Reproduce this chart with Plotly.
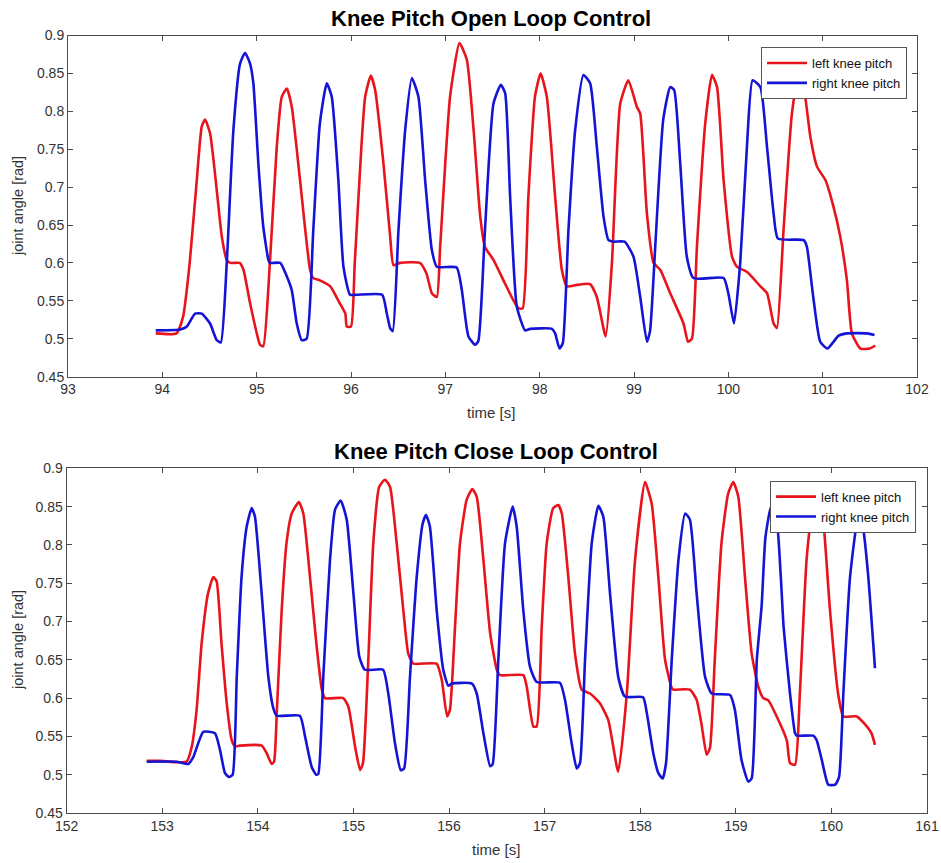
import plotly.graph_objects as go

# ---------------- data ----------------
open_left_t = [93.93, 94.15, 94.22, 94.29, 94.365, 94.418, 94.453, 94.506, 94.577, 94.63, 94.683, 94.72, 94.82, 94.86, 94.93,
               95.036, 95.07, 95.14, 95.213, 95.266, 95.32, 95.372, 95.46, 95.566, 95.6, 95.67, 95.78, 95.88, 95.94, 95.955,
               96.0, 96.04, 96.11, 96.15, 96.21, 96.256, 96.344, 96.415, 96.45, 96.52, 96.73, 96.8, 96.857, 96.91, 96.945,
               97.05, 97.15, 97.228, 97.3, 97.37, 97.42, 97.51, 97.616, 97.72, 97.775, 97.82, 97.88, 97.95, 98.01, 98.076,
               98.164, 98.235, 98.288, 98.394, 98.535, 98.606, 98.7, 98.766, 98.854, 98.94, 99.03, 99.066, 99.137, 99.207,
               99.278, 99.384, 99.525, 99.572, 99.614, 99.667, 99.755, 99.826, 99.88, 99.95, 100.04, 100.09, 100.2, 100.34,
               100.41, 100.48, 100.515, 100.585, 100.674, 100.75, 100.815, 100.87, 100.94, 101.03, 101.115, 101.186,
               101.257, 101.31, 101.4, 101.5, 101.558]
open_left_v = [0.507, 0.507, 0.529, 0.600, 0.709, 0.780, 0.789, 0.771, 0.696, 0.635, 0.604, 0.600, 0.600, 0.591, 0.547,
               0.492, 0.490, 0.600, 0.753, 0.819, 0.830, 0.806, 0.709, 0.591, 0.580, 0.577, 0.569, 0.547, 0.533, 0.516,
               0.516, 0.600, 0.753, 0.819, 0.847, 0.828, 0.731, 0.635, 0.597, 0.600, 0.600, 0.586, 0.560, 0.555, 0.621,
               0.819, 0.890, 0.868, 0.775, 0.661, 0.621, 0.604, 0.577, 0.551, 0.540, 0.540, 0.687, 0.819, 0.850, 0.819,
               0.687, 0.591, 0.569, 0.571, 0.572, 0.555, 0.503, 0.600, 0.810, 0.841, 0.806, 0.797, 0.665, 0.600,
               0.591, 0.560, 0.520, 0.496, 0.500, 0.621, 0.784, 0.848, 0.832, 0.709, 0.608, 0.595, 0.588, 0.569,
               0.560, 0.520, 0.514, 0.643, 0.797, 0.855, 0.819, 0.766, 0.727, 0.709, 0.674, 0.635,
               0.577, 0.507, 0.487, 0.487, 0.491]

open_right_t = [93.93, 94.19, 94.26, 94.347, 94.418, 94.506, 94.577, 94.62, 94.683, 94.753, 94.824, 94.877, 94.93, 94.965,
                95.018, 95.07, 95.124, 95.14, 95.25, 95.32, 95.372, 95.425, 95.478, 95.53, 95.6, 95.67, 95.743, 95.796,
                95.866, 95.92, 95.99, 96.06, 96.33, 96.38, 96.415, 96.443, 96.503, 96.574, 96.645, 96.715, 96.786, 96.857,
                96.91, 97.12, 97.175, 97.245, 97.316, 97.35, 97.42, 97.51, 97.588, 97.634, 97.687, 97.758, 97.846, 97.9,
                98.13, 98.164, 98.21, 98.245, 98.305, 98.376, 98.464, 98.535, 98.606, 98.677, 98.73, 98.78, 98.9, 98.995,
                99.066, 99.137, 99.17, 99.225, 99.31, 99.384, 99.426, 99.49, 99.56, 99.63, 99.95, 100.0, 100.06, 100.126,
                100.197, 100.257, 100.34, 100.41, 100.48, 100.526, 100.8, 100.833, 100.9, 100.974, 101.05, 101.17,
                101.257, 101.47, 101.55]
open_right_v = [0.511, 0.512, 0.516, 0.533, 0.533, 0.520, 0.498, 0.495, 0.600, 0.775, 0.863, 0.877, 0.863, 0.837,
                0.731, 0.648, 0.604, 0.600, 0.600, 0.582, 0.564, 0.520, 0.498, 0.500, 0.643, 0.784, 0.837, 0.819,
                0.709, 0.595, 0.558, 0.558, 0.558, 0.533, 0.514, 0.510, 0.643, 0.775, 0.844, 0.819, 0.709, 0.617,
                0.595, 0.594, 0.564, 0.503, 0.492, 0.497, 0.643, 0.810, 0.835, 0.824, 0.687, 0.542, 0.511, 0.513,
                0.513, 0.507, 0.487, 0.494, 0.643, 0.775, 0.848, 0.837, 0.753, 0.661, 0.630, 0.628, 0.628, 0.608,
                0.555, 0.496, 0.510, 0.621, 0.789, 0.832, 0.828, 0.731, 0.608, 0.580, 0.580, 0.560, 0.520, 0.600,
                0.753, 0.841, 0.832, 0.753, 0.665, 0.632, 0.630, 0.621, 0.555, 0.496, 0.487, 0.504,
                0.507, 0.507, 0.505]

close_left_t = [152.838, 152.977, 153.256, 153.31, 153.36, 153.413, 153.48, 153.535, 153.57, 153.62, 153.675, 153.727,
                153.76, 153.814, 154.04, 154.093, 154.145, 154.17, 154.2, 154.25, 154.3, 154.355, 154.43, 154.476,
                154.546, 154.616, 154.67, 154.703, 154.894, 154.947, 155.017, 155.07, 155.1, 155.156, 155.208, 155.27,
                155.33, 155.383, 155.453, 155.522, 155.574, 155.627, 155.87, 155.924, 155.98, 156.01, 156.063, 156.115,
                156.185, 156.244, 156.29, 156.36, 156.43, 156.5, 156.533, 156.777, 156.813, 156.882, 156.917, 156.97,
                157.022, 157.09, 157.143, 157.18, 157.248, 157.318, 157.388, 157.475, 157.58, 157.667, 157.77, 157.86,
                157.946, 158.05, 158.12, 158.19, 158.26, 158.33, 158.346, 158.52, 158.59, 158.64, 158.695, 158.73,
                158.78, 158.85, 158.92, 158.974, 159.026, 159.096, 159.166, 159.235, 159.288, 159.34, 159.428, 159.533,
                159.567, 159.62, 159.67, 159.74, 159.8, 159.86, 159.915, 159.985, 160.07, 160.125, 160.265, 160.37,
                160.42, 160.456]
close_left_v = [0.518, 0.518, 0.517, 0.537, 0.585, 0.672, 0.737, 0.758, 0.752, 0.672, 0.593, 0.545,
                0.537, 0.538, 0.538, 0.528, 0.514, 0.517, 0.585, 0.715, 0.802, 0.841, 0.856, 0.841,
                0.758, 0.667, 0.611, 0.600, 0.600, 0.589, 0.537, 0.506, 0.515, 0.650, 0.802, 0.876,
                0.885, 0.876, 0.802, 0.715, 0.658, 0.645, 0.645, 0.624, 0.576, 0.585, 0.693, 0.802,
                0.859, 0.873, 0.863, 0.780, 0.685, 0.637, 0.630, 0.630, 0.615, 0.563, 0.563, 0.693,
                0.802, 0.848, 0.852, 0.841, 0.758, 0.658, 0.611, 0.606, 0.593, 0.571, 0.504, 0.606,
                0.780, 0.882, 0.854, 0.758, 0.650, 0.613, 0.611, 0.611, 0.598, 0.567, 0.526, 0.535,
                0.650, 0.802, 0.867, 0.882, 0.863, 0.758, 0.658, 0.615, 0.600, 0.597, 0.576, 0.545,
                0.515, 0.513, 0.606, 0.780, 0.850, 0.875, 0.833, 0.715, 0.606, 0.576, 0.576, 0.563,
                0.554, 0.539]

close_right_t = [152.838, 153.15, 153.273, 153.325, 153.43, 153.552, 153.605, 153.657, 153.70, 153.737, 153.78, 153.83,
                 153.884, 153.936, 153.97, 154.04, 154.11, 154.162, 154.198, 154.44, 154.494, 154.564, 154.61, 154.633,
                 154.685, 154.755, 154.808, 154.867, 154.93, 155.0, 155.062, 155.12, 155.31, 155.365, 155.435, 155.495,
                 155.53, 155.592, 155.662, 155.725, 155.76, 155.8, 155.871, 155.94, 155.993, 156.03, 156.24, 156.29,
                 156.36, 156.43, 156.457, 156.516, 156.586, 156.666, 156.708, 156.777, 156.847, 156.917, 157.16, 157.213,
                 157.283, 157.336, 157.37, 157.423, 157.493, 157.562, 157.614, 157.684, 157.77, 157.84, 158.03, 158.07,
                 158.137, 158.19, 158.235, 158.27, 158.33, 158.4, 158.47, 158.52, 158.59, 158.678, 158.748, 158.94,
                 158.99, 159.06, 159.13, 159.166, 159.22, 159.27, 159.31, 159.37, 159.43, 159.47, 159.5, 159.567,
                 159.62, 159.637, 159.81, 159.846, 159.9, 159.967, 160.04, 160.08, 160.125, 160.195, 160.28, 160.334,
                 160.386, 160.456]
close_right_v = [0.517, 0.517, 0.514, 0.523, 0.556, 0.554, 0.532, 0.502, 0.497, 0.500, 0.628, 0.758,
                 0.824, 0.848, 0.837, 0.737, 0.628, 0.587, 0.577, 0.577, 0.550, 0.510, 0.500, 0.501,
                 0.628, 0.780, 0.846, 0.858, 0.833, 0.737, 0.654, 0.637, 0.637, 0.606, 0.541, 0.506,
                 0.508, 0.628, 0.758, 0.828, 0.839, 0.824, 0.715, 0.637, 0.616, 0.619, 0.619, 0.606,
                 0.554, 0.511, 0.514, 0.650, 0.802, 0.850, 0.824, 0.715, 0.641, 0.621, 0.620, 0.598,
                 0.541, 0.508, 0.515, 0.650, 0.802, 0.851, 0.837, 0.737, 0.628, 0.602, 0.601, 0.580,
                 0.528, 0.502, 0.495, 0.515, 0.650, 0.780, 0.841, 0.833, 0.737, 0.628, 0.606, 0.604,
                 0.585, 0.519, 0.491, 0.495, 0.650, 0.720, 0.810, 0.850, 0.830, 0.760, 0.693, 0.606,
                 0.554, 0.551, 0.551, 0.545, 0.519, 0.487, 0.487, 0.497, 0.606, 0.758, 0.835, 0.819,
                 0.758, 0.639]

y_ticks = [0.45, 0.5, 0.55, 0.6, 0.65, 0.7, 0.75, 0.8, 0.85, 0.9]
y_tick_labels = ["0.45", "0.5", "0.55", "0.6", "0.65", "0.7", "0.75", "0.8", "0.85", "0.9"]
open_x_ticks = list(range(93, 103))
close_x_ticks = list(range(152, 162))

titles = ["Knee Pitch Open Loop Control", "Knee Pitch Close Loop Control"]
series_names = ["left knee pitch", "right knee pitch"]
x_label = "time [s]"
y_label = "joint angle [rad]"

# ---------------- styling ----------------
W, H = 941, 863
RED = "#e8141c"
BLUE = "#1414d6"
FONT = "Liberation Sans, Arial, sans-serif"
AXC = "#4a4a4a"
TICKC = "#333333"

fig = go.Figure()
line_kw = dict(shape="spline", smoothing=0.5, width=2.6)

fig.add_trace(go.Scatter(x=open_left_t, y=open_left_v, mode="lines", name=series_names[0],
                         line=dict(color=RED, **line_kw), xaxis="x", yaxis="y", legend="legend"))
fig.add_trace(go.Scatter(x=open_right_t, y=open_right_v, mode="lines", name=series_names[1],
                         line=dict(color=BLUE, **line_kw), xaxis="x", yaxis="y", legend="legend"))
fig.add_trace(go.Scatter(x=close_left_t, y=close_left_v, mode="lines", name=series_names[0],
                         line=dict(color=RED, **line_kw), xaxis="x2", yaxis="y2", legend="legend2"))
fig.add_trace(go.Scatter(x=close_right_t, y=close_right_v, mode="lines", name=series_names[1],
                         line=dict(color=BLUE, **line_kw), xaxis="x2", yaxis="y2", legend="legend2"))


def px_x(p):
    return p / W


def px_y(p):
    return 1 - p / H


axis_common = dict(showgrid=False, zeroline=False, showline=True, linecolor=AXC, linewidth=1,
                   mirror="ticks", ticks="inside", ticklen=5, tickcolor=AXC, automargin=False,
                   tickfont=dict(family=FONT, size=14, color=TICKC))

fig.update_layout(
    template="none",
    width=W, height=H,
    margin=dict(l=0, r=0, t=0, b=0, pad=0, autoexpand=False),
    paper_bgcolor="white", plot_bgcolor="white",
    showlegend=True,
    xaxis=dict(domain=[px_x(68), px_x(917)], range=[93, 102], tickvals=open_x_ticks, anchor="y", **axis_common),
    yaxis=dict(domain=[px_y(376.6), px_y(35.5)], range=[0.45, 0.9], tickvals=y_ticks, ticktext=y_tick_labels,
               anchor="x", **axis_common),
    xaxis2=dict(domain=[px_x(66.6), px_x(927)], range=[152, 161], tickvals=close_x_ticks, anchor="y2", **axis_common),
    yaxis2=dict(domain=[px_y(813), px_y(468.3)], range=[0.45, 0.9], tickvals=y_ticks, ticktext=y_tick_labels,
                anchor="x2", **axis_common),
    legend=dict(x=px_x(907), y=px_y(47), xanchor="right", yanchor="top", bgcolor="white",
                bordercolor="#555555", borderwidth=1, font=dict(family=FONT, size=13, color="#111111"),
                tracegroupgap=0, itemwidth=40),
    legend2=dict(x=px_x(916), y=px_y(480.7), xanchor="right", yanchor="top", bgcolor="white",
                 bordercolor="#555555", borderwidth=1, font=dict(family=FONT, size=13, color="#111111"),
                 tracegroupgap=0, itemwidth=40),
)

ann = []
for title, cx, cy in [(titles[0], 491, 18), (titles[1], 496, 452)]:
    ann.append(dict(text="<b>" + title + "</b>", x=px_x(cx), y=px_y(cy), xref="paper", yref="paper",
                    xanchor="center", yanchor="middle", showarrow=False,
                    font=dict(family=FONT, size=22, color="#000000")))
for cx, cy in [(491, 412), (496, 849)]:
    ann.append(dict(text=x_label, x=px_x(cx), y=px_y(cy), xref="paper", yref="paper",
                    xanchor="center", yanchor="middle", showarrow=False,
                    font=dict(family=FONT, size=15, color=TICKC)))
for cx, cy in [(18, 206), (18, 640)]:
    ann.append(dict(text=y_label, x=px_x(cx), y=px_y(cy), xref="paper", yref="paper",
                    xanchor="center", yanchor="middle", showarrow=False, textangle=-90,
                    font=dict(family=FONT, size=14.5, color=TICKC)))
fig.update_layout(annotations=ann)

fig.write_html("out.html", config={"displayModeBar": False},
               post_script="document.body.style.margin='0';")
